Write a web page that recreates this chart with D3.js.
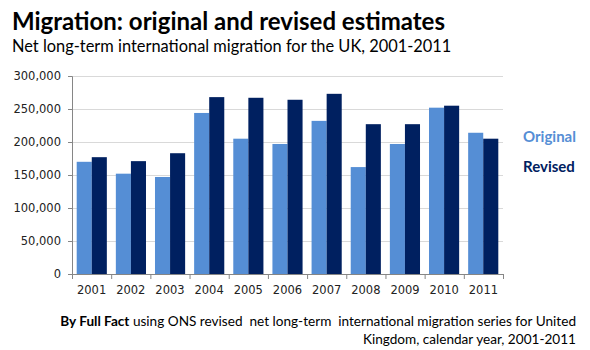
<!DOCTYPE html>
<html>
  <head>
    <style>
      body,
      html {
        margin: 0;
        padding: 0;
        background: #fff;
      }
      text {
        font-family: Lato, 'Open Sans', sans-serif;
      }
      .tick text {
        font-family: 'DejaVu Sans', sans-serif;
        font-size: 11.5px;
        fill: #222;
      }
    </style>
  </head>
  <body>
    <svg id="svg" width="590" height="350"></svg>
    <script src="https://cdn.jsdelivr.net/npm/d3@7"></script>
    <script>
      const years = ['2001', '2002', '2003', '2004', '2005', '2006', '2007', '2008', '2009', '2010', '2011'];
      const original = [170000, 152000, 147000, 244000, 205000, 197000, 232000, 162000, 197000, 252000, 214000];
      const revised = [177000, 171000, 183000, 268000, 267000, 264000, 273000, 227000, 227000, 255000, 205000];
      const seriesNames = ['Original', 'Revised'];
      const yTicks = [0, 50000, 100000, 150000, 200000, 250000, 300000];

      const colors = ['#558ed5', '#002060'];
      const svg = d3.select('#svg');
      const plotLeft = 72;
      const plotRight = 503;
      const plotTop = 76;
      const plotBottom = 274;

      const x = d3.scaleBand().domain(years).range([plotLeft, plotRight]).paddingInner(0.23).paddingOuter(0.12);
      const xs = d3.scaleBand().domain(seriesNames).range([0, x.bandwidth()]);
      const y = d3.scaleLinear().domain([0, 300000]).range([plotBottom, plotTop]);

      // gridlines
      svg
        .append('g')
        .selectAll('line')
        .data(yTicks.slice(1))
        .enter()
        .append('line')
        .attr('x1', plotLeft)
        .attr('x2', plotRight)
        .attr('y1', (d) => y(d) + 0.5)
        .attr('y2', (d) => y(d) + 0.5)
        .attr('stroke', '#d9d9d9')
        .attr('stroke-width', 1);

      const data = years.map((yr, i) => ({ year: yr, values: [original[i], revised[i]] }));

      svg
        .append('g')
        .selectAll('g')
        .data(data)
        .enter()
        .append('g')
        .attr('transform', (d) => `translate(${x(d.year)},0)`)
        .selectAll('rect')
        .data((d) => d.values)
        .enter()
        .append('rect')
        .attr('x', (d, i) => xs(seriesNames[i]))
        .attr('width', xs.bandwidth())
        .attr('y', (d) => y(d))
        .attr('height', (d) => plotBottom - y(d))
        .attr('fill', (d, i) => colors[i]);

      // axes
      const yAxis = svg
        .append('g')
        .attr('transform', `translate(${plotLeft},0)`)
        .call(d3.axisLeft(y).tickValues(yTicks).tickSize(4).tickPadding(7).tickFormat(d3.format(',')));
      yAxis.select('.domain').attr('stroke', '#868686');
      yAxis.selectAll('.tick line').attr('stroke', '#868686');

      const xBoundary = d3.scaleLinear().domain([0, years.length]).range([plotLeft, plotRight]);
      const xAxis = svg.append('g').attr('transform', `translate(0,${plotBottom})`);
      xAxis
        .append('line')
        .attr('x1', plotLeft - 4)
        .attr('x2', plotRight)
        .attr('y1', 0.5)
        .attr('y2', 0.5)
        .attr('stroke', '#868686');
      xAxis
        .selectAll('line.tk')
        .data(d3.range(years.length + 1))
        .enter()
        .append('line')
        .attr('class', 'tk')
        .attr('x1', (d) => xBoundary(d) + 0.5)
        .attr('x2', (d) => xBoundary(d) + 0.5)
        .attr('y1', 0)
        .attr('y2', 5)
        .attr('stroke', '#868686');
      xAxis
        .selectAll('text')
        .data(years)
        .enter()
        .append('text')
        .attr('class', 'xl')
        .attr('x', (d, i) => (xBoundary(i) + xBoundary(i + 1)) / 2)
        .attr('y', 20)
        .attr('text-anchor', 'middle')
        .style('font-family', "'DejaVu Sans', sans-serif")
        .style('font-size', '11.5px')
        .attr('fill', '#222')
        .text((d) => d);

      // legend
      svg
        .append('g')
        .selectAll('text')
        .data(seriesNames)
        .enter()
        .append('text')
        .attr('x', 523)
        .attr('y', (d, i) => 142 + i * 30)
        .attr('font-size', 15)
        .attr('font-weight', 'bold')
        .attr('fill', (d, i) => colors[i])
        .text((d) => d);

      // titles
      svg
        .append('text')
        .attr('x', 12)
        .attr('y', 30)
        .attr('font-size', 24)
        .attr('font-weight', 'bold')
        .attr('fill', '#000')
        .text('Migration: original and revised estimates');
      svg
        .append('text')
        .attr('x', 12)
        .attr('y', 52)
        .attr('font-size', 16.4)
        .attr('fill', '#000')
        .text('Net long-term international migration for the UK, 2001-2011');

      // source
      const src = svg
        .append('text')
        .attr('x', 576)
        .attr('y', 326)
        .attr('text-anchor', 'end')
        .attr('font-size', 13.6)
        .attr('fill', '#000')
        .style('white-space', 'pre');
      src.append('tspan').attr('font-weight', 'bold').text('By Full Fact');
      src.append('tspan').text(' using ONS revised  net long-term  international migration series for United');
      svg
        .append('text')
        .attr('x', 576)
        .attr('y', 344)
        .attr('text-anchor', 'end')
        .attr('font-size', 13.6)
        .attr('fill', '#000')
        .text('Kingdom, calendar year, 2001-2011');
    </script>
  </body>
</html>
